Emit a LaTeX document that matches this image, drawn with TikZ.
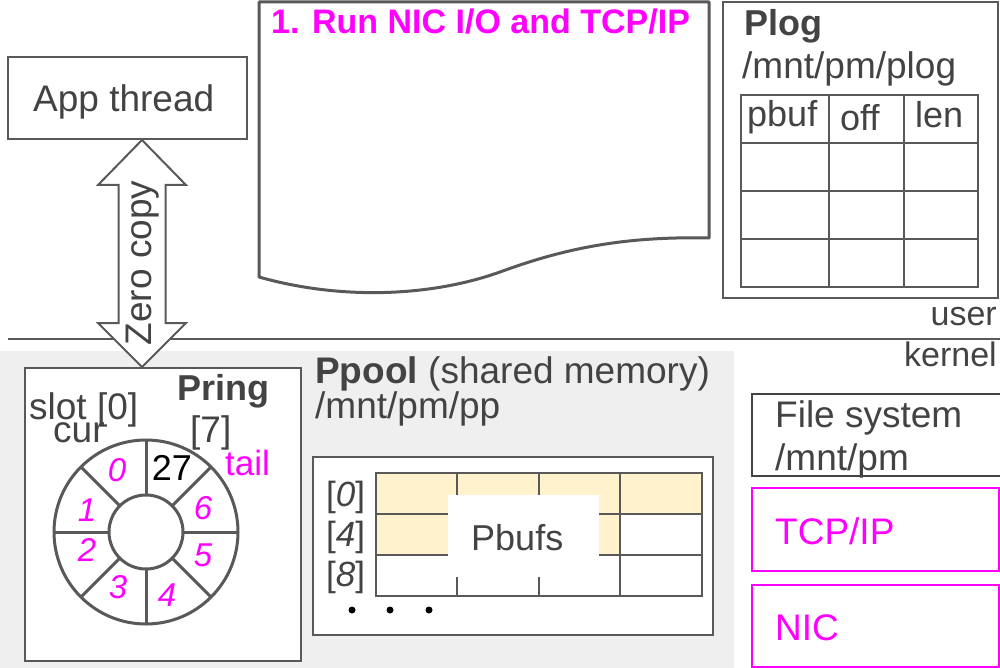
\documentclass[tikz,border=0pt]{standalone}
\usepackage{fontspec}
\setmainfont{Liberation Sans}
\usetikzlibrary{calc}
\definecolor{tx}{HTML}{434343}
\definecolor{ln}{HTML}{595959}
\definecolor{mg}{HTML}{FF00FF}
\definecolor{gr}{HTML}{EFEFEF}
\definecolor{yl}{HTML}{FFF2CC}
\newcommand\fsz[1]{\fontsize{#1}{#1}\selectfont}
\begin{document}
\begin{tikzpicture}[x=1pt,y=-1pt,
  lbl/.style={inner sep=0pt, anchor=base west, text=tx, font=\fsz{37}},
  lblr/.style={inner sep=0pt, anchor=base east, text=tx, font=\fsz{34}},
  boxline/.style={draw=ln, line width=2pt, fill=white},
  magbox/.style={draw=mg, line width=2pt, fill=white},
  ringline/.style={draw=ln, line width=3pt},
  ringnum/.style={inner sep=0pt, text=mg, font=\fsz{33}\itshape},
  gridline/.style={draw=ln, line width=2pt},
  idx/.style={inner sep=0pt, anchor=base west, text=tx, font=\fsz{35}},
  dot/.style={fill=black}
]
\useasboundingbox (0,0) rectangle (1000,668);
% kernel background
\fill[gr] (0,351) rectangle (734,668);
% user/kernel boundary
\coordinate (bl) at (8,339);
\coordinate (br) at (1000,339);
\draw[ln, line width=1.5pt] (bl) -- (br);
\node[lblr] (user) at (997,325) {user};
\node[lblr] (kernel) at (997,366) {kernel};

% App thread
\draw[boxline] (8,57) rectangle (247,139);
\node[lbl] (app) at (33,112) {App thread};

% document shape
\draw[ln, line width=3pt, fill=white, line join=round]
  (259,2) -- (709,2) -- (709,238)
  .. controls (620,236) and (560,250) .. (500,272)
  .. controls (430,297) and (340,300) .. (259,277) -- cycle;
\node[inner sep=0pt, anchor=base west, text=mg, font=\fsz{34}\bfseries] (title) at (271,34) {1. Run NIC I/O and TCP/IP};

% Plog
\draw[boxline] (723,2) rectangle (998,298);
\node[lbl, font=\fsz{36}\bfseries] (plog) at (744,36) {Plog};
\node[lbl] (plogpath) at (742,79) {/mnt/pm/plog};
\draw[gridline] (741,95) rectangle (978,287);
\foreach \yy in {143,191,239} \draw[gridline] (741,\yy) -- (978,\yy);
\foreach \xx in {829,904} \draw[gridline] (\xx,95) -- (\xx,287);
\node[lbl, font=\fsz{36}] (hpbuf) at (747,127) {pbuf};
\node[lbl, font=\fsz{36}] (hoff) at (840,131) {off};
\node[lbl, font=\fsz{36}] (hlen) at (915,128) {len};

% Pring
\draw[boxline] (25,368) rectangle (301,661);
\node[lbl, font=\fsz{36}\bfseries] (pring) at (177,400) {Pring};
\node[lbl] (slot) at (29,419) {slot [0]};
\node[lbl] (cur) at (53,442) {cur};
\node[lbl] (seven) at (190,442) {[7]};
\node[lbl, text=mg, font=\fsz{35}] (tail) at (225,475) {tail};
\coordinate (rc) at (146,532);
\draw[ringline, fill=white] (rc) circle (92);
\draw[ringline] (rc) circle (37);
\foreach \a in {0,45,...,315}
  \draw[ringline] ($(rc)+(\a:37)$) -- ($(rc)+(\a:92)$);
\node[ringnum] (r0) at ($(rc)+(-29,-62)$) {0};
\node[inner sep=0pt, text=black, font=\fsz{36}] (r7) at ($(rc)+(26,-64)$) {27};
\node[ringnum] (r6) at ($(rc)+(57,-24)$) {6};
\node[ringnum] (r5) at ($(rc)+(57,23)$) {5};
\node[ringnum] (r4) at ($(rc)+(21,63)$) {4};
\node[ringnum] (r3) at ($(rc)+(-28,55)$) {3};
\node[ringnum] (r2) at ($(rc)+(-59,18)$) {2};
\node[ringnum] (r1) at ($(rc)+(-59,-22)$) {1};

% Zero copy double arrow
\coordinate (zt) at (142,140);
\coordinate (zb) at (142,367);
\draw[ln, line width=2pt, fill=white, line join=miter]
  (zt) -- ++(44,45) -- ++(-20.5,0) -- ++(0,138) -- ++(20.5,0) -- (zb)
  -- ++(-44,-44) -- ++(20.5,0) -- ++(0,-138) -- ++(-20.5,0) -- cycle;
\node[inner sep=0pt, rotate=90, text=tx, font=\fsz{37}] (zc) at (143,263) {Zero copy};

% Ppool
\node[lbl] (ppool) at (315,383) {\textbf{Ppool} (shared memory)};
\node[lbl] (pppath) at (315,418) {/mnt/pm/pp};
\draw[boxline] (313,457) rectangle (713,635);
\fill[yl] (376,473) rectangle (702,514);
\fill[yl] (376,514) rectangle (620,555);
\draw[gridline] (376,473) rectangle (702,596);
\foreach \yy in {514,555} \draw[gridline] (376,\yy) -- (702,\yy);
\foreach \xx in {457,539,620} \draw[gridline] (\xx,473) -- (\xx,596);
\fill[white] (448,495) rectangle (599,577);
\node[lbl, font=\fsz{36}] (pbufs) at (471,550) {Pbufs};
\node[idx] (i0) at (326,506) {[\textit{0}]};
\node[idx] (i4) at (326,546) {[\textit{4}]};
\node[idx] (i8) at (326,586) {[\textit{8}]};
\fill[dot] (352,610) circle (3.5);
\fill[dot] (390,610) circle (3.5);
\fill[dot] (429,610) circle (3.5);

% right side boxes
\draw[draw=tx, line width=2pt, fill=white] (752,394) rectangle (1006,476);
\node[lbl] (fs) at (775,427) {File system};
\node[lbl] (fsp) at (775,470) {/mnt/pm};
\draw[magbox] (752,488) rectangle (999,571);
\node[lbl, text=mg] (tcp) at (775,544) {TCP/IP};
\draw[magbox] (752,585) rectangle (999,667);
\node[lbl, text=mg] (nic) at (775,640) {NIC};
\end{tikzpicture}
\end{document}
